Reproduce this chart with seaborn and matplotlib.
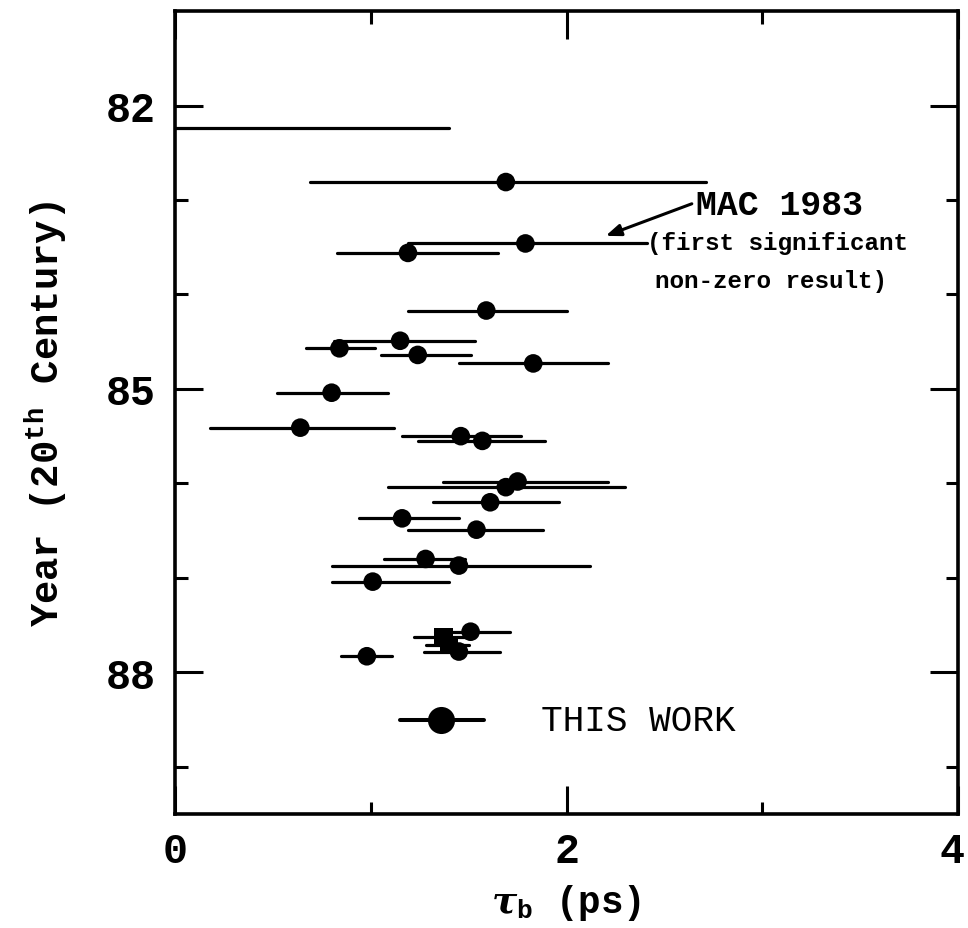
import numpy as np
import pandas as pd
import matplotlib
matplotlib.use("Agg")
import matplotlib.pyplot as plt
import matplotlib.transforms as mtransforms
import seaborn as sns
from matplotlib.ticker import FixedLocator

# B-hadron lifetime measurements versus publication year
year = [82.81, 83.46, 83.56, 84.17, 84.49, 84.57, 84.64, 84.73, 85.04,
        85.41, 85.50, 85.55, 85.98, 86.04, 86.20, 86.37, 86.49, 86.80,
        86.87, 87.04, 87.57, 87.63, 87.71, 87.78, 87.83]
tau = [1.69, 1.79, 1.19, 1.59, 1.15, 0.84, 1.24, 1.83, 0.80,
       0.64, 1.46, 1.57, 1.75, 1.69, 1.61, 1.16, 1.54, 1.28,
       1.45, 1.01, 1.51, 1.37, 1.40, 1.45, 0.98]
tau_lo = [0.69, 1.19, 0.83, 1.19, 0.81, 0.67, 1.05, 1.45, 0.52,
          0.18, 1.16, 1.24, 1.37, 1.09, 1.32, 0.94, 1.19, 1.07,
          0.80, 0.80, 1.33, 1.22, 1.28, 1.27, 0.85]
tau_hi = [2.71, 2.41, 1.65, 2.00, 1.53, 1.02, 1.51, 2.21, 1.09,
          1.12, 1.77, 1.89, 2.21, 2.30, 1.96, 1.45, 1.88, 1.48,
          2.12, 1.40, 1.71, 1.52, 1.50, 1.66, 1.11]
kind = ["circle"] * 21 + ["square", "square"] + ["circle"] * 2

# upper limit (no central value)
limit_year = 82.24
limit_upper = 1.40

# this measurement
this_year = 88.51
this_tau = 1.36
this_lo = 1.15
this_hi = 1.58

df = pd.DataFrame({"year": year, "tau": tau, "lo": tau_lo, "hi": tau_hi, "kind": kind})

sns.set_style("ticks")
plt.rcParams["font.family"] = ["Liberation Mono", "DejaVu Sans"]
plt.rcParams["mathtext.fontset"] = "custom"
plt.rcParams["mathtext.rm"] = "Liberation Mono:bold"
plt.rcParams["mathtext.it"] = "DejaVu Serif:italic:bold"
for key in ["text.color", "axes.labelcolor", "xtick.color", "ytick.color",
            "axes.edgecolor", "xtick.labelcolor", "ytick.labelcolor"]:
    plt.rcParams[key] = "black"

fig = plt.figure(figsize=(9.68, 9.29), dpi=100)
ax = fig.add_axes([0.1808, 0.1227, 0.8089, 0.8643])

lw = 2.3
ax.hlines(df["year"], df["lo"], df["hi"], color="black", linewidth=lw, capstyle="round", zorder=2)
ax.hlines([limit_year], [-0.1], [limit_upper], color="black", linewidth=lw, capstyle="round", zorder=2)
ax.hlines([this_year], [this_lo], [this_hi], color="black", linewidth=lw + 0.6, capstyle="round", zorder=2)

sns.scatterplot(data=df, x="tau", y="year", style="kind",
                markers={"circle": "o", "square": "s"}, s=180,
                color="black", edgecolor="black", linewidth=0, legend=False,
                ax=ax, zorder=3)
ax.scatter([this_tau], [this_year], s=380, color="black", linewidth=0, zorder=3)

ax.set_xlim(0, 4)
ax.set_ylim(89.5, 81)

ax.xaxis.set_major_locator(FixedLocator([0, 2, 4]))
ax.xaxis.set_minor_locator(FixedLocator([1, 3]))
ax.yaxis.set_major_locator(FixedLocator([82, 85, 88]))
ax.yaxis.set_minor_locator(FixedLocator([83, 84, 86, 87, 89]))
ax.set_xticklabels(["0", "2", "4"])
ax.set_yticklabels(["82", "85", "88"])

ax.tick_params(which="both", direction="in", top=True, right=True, width=2.2, color="black")
ax.tick_params(which="major", length=20, labelsize=30)
ax.tick_params(axis="x", which="major", pad=12)
ax.tick_params(axis="y", which="major", pad=14)
ax.tick_params(which="minor", length=9)
for lab in ax.get_xticklabels() + ax.get_yticklabels():
    lab.set_fontweight("bold")

# keep the last x label inside the figure edge
last = ax.get_xticklabels()[-1]
last.set_transform(last.get_transform() +
                   mtransforms.ScaledTranslation(-6 / 100, 0, fig.dpi_scale_trans))

for sp in ax.spines.values():
    sp.set_linewidth(2.6)
    sp.set_color("black")

ax.set_xlabel(r"$\tau_{\rm b}$ (ps)", fontsize=27, fontweight="bold", labelpad=8)
ax.set_ylabel(r"Year (20$^{\rm th}$ Century)", fontsize=28, fontweight="bold", labelpad=26)

ax.annotate("", xy=(2.20, 83.38), xytext=(2.64, 83.04),
            arrowprops=dict(arrowstyle="-|>,head_length=0.9,head_width=0.35",
                            color="black", linewidth=2.2, shrinkA=0, shrinkB=0))
ax.text(2.66, 83.05, "MAC 1983", fontsize=25, fontweight="bold", va="center", ha="left")
ax.text(2.41, 83.45, "(first significant", fontsize=17.5, fontweight="bold", va="center", ha="left")
ax.text(2.45, 83.85, "non-zero result)", fontsize=17.5, fontweight="bold", va="center", ha="left")
ax.text(1.87, this_year, "THIS WORK", fontsize=26, va="center", ha="left")

fig.savefig("out.png", dpi=100)
